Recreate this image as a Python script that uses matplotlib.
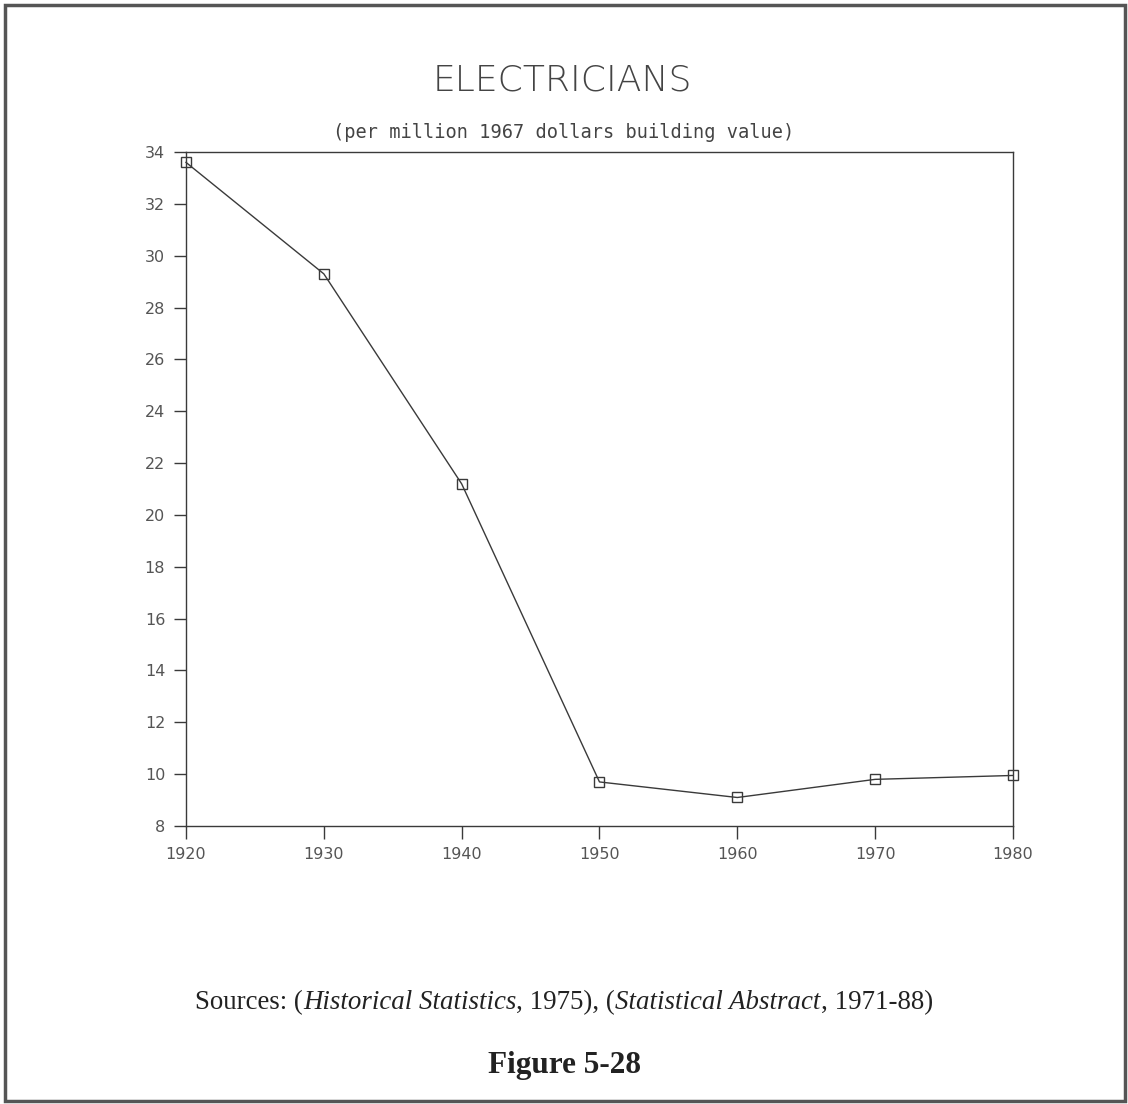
import matplotlib.pyplot as plt
from matplotlib.patches import Rectangle

# data
years = [1920, 1930, 1940, 1950, 1960, 1970, 1980]
electricians = [33.6, 29.3, 21.2, 9.7, 9.1, 9.8, 9.95]
y_ticks = list(range(8, 35, 2))

ink = "#3a3a3a"

fig = plt.figure(figsize=(11.28, 11.04), dpi=100)
ax = fig.add_axes([0.1649, 0.2518, 0.898 - 0.1649, 0.8623 - 0.2518])

ax.plot(years, electricians, color=ink, lw=1.0, marker="s", markersize=7,
        markerfacecolor="none", markeredgecolor=ink, markeredgewidth=1.0,
        clip_on=False)

ax.set_xlim(1920, 1980)
ax.set_ylim(8, 34)
ax.set_xticks(years)
ax.set_yticks(y_ticks)
ax.tick_params(direction="out", length=9, width=1, colors=ink, labelsize=11.5,
               labelcolor="#555555", pad=6)
for s in ax.spines.values():
    s.set_color(ink)
    s.set_linewidth(1.0)

fig.text(0.499, 0.927, "ELECTRICIANS", ha="center", va="center", fontsize=26,
         fontweight="light", color="#444444")
fig.text(0.5, 0.880, "(per million 1967 dollars building value)", ha="center",
         va="center", fontsize=13.4, family="DejaVu Sans Mono", color="#444444")

# mixed-style source line, laid out piece by piece
src = [("Sources: (", "normal"), ("Historical Statistics", "italic"), (", 1975), (", "normal"),
       ("Statistical Abstract", "italic"), (", 1971-88)", "normal")]
fig.canvas.draw()
renderer = fig.canvas.get_renderer()
pieces = []
for txt, style in src:
    t = fig.text(0, 0.092, txt, ha="left", va="center", fontsize=19.4,
                 family="Liberation Serif", style=style, color="#222222")
    pieces.append(t)
widths = [p.get_window_extent(renderer).width for p in pieces]
x = 0.5 * fig.bbox.width - sum(widths) / 2
for p, w in zip(pieces, widths):
    p.set_x(x / fig.bbox.width)
    x += w

fig.text(0.5005, 0.035, "Figure 5-28", ha="center", va="center", fontsize=22.5,
         family="Liberation Serif", fontweight="bold", color="#222222")

fig.patches.append(Rectangle((5 / 1128, 3 / 1104), 1120 / 1128, 1096 / 1104,
                             transform=fig.transFigure, fill=False,
                             edgecolor="#555555", lw=2.5))

fig.savefig("out.png", dpi=100)
